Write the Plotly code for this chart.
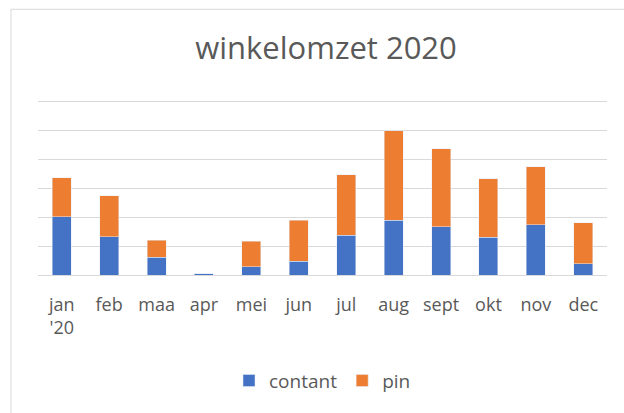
import plotly.graph_objects as go

months = ["jan<br>'20", "feb", "maa", "apr", "mei", "jun", "jul", "aug", "sept", "okt", "nov", "dec"]
contant = [2.02, 1.33, 0.61, 0.05, 0.29, 0.48, 1.37, 1.90, 1.66, 1.31, 1.74, 0.39]
pin = [1.35, 1.41, 0.59, 0.0, 0.88, 1.41, 2.09, 3.08, 2.70, 2.01, 2.01, 1.41]

W, H = 624, 413
unit = 173.6 / 6
ymax = 6.05
L, R, B = 38, 17, 137.7
T = H - B - unit * ymax
pw, ph = W - L - R, H - T - B

fig = go.Figure()
fig.add_trace(go.Bar(x=months, y=contant, name="contant", marker_color="#4472C4"))
fig.add_trace(go.Bar(x=months, y=pin, name="pin", marker_color="#ED7D31"))

font = "Open Sans"
fig.update_layout(
    width=W, height=H,
    margin=dict(l=L, r=R, t=T, b=B, autoexpand=False),
    barmode="stack", bargap=0.6,
    plot_bgcolor="white", paper_bgcolor="white",
    title=dict(text="winkelomzet 2020", x=326 / W, xanchor="center", xref="container",
               y=(H - 48) / H, yanchor="middle", yref="container",
               font=dict(family=font, size=31, color="#595959")),
    font=dict(family=font, color="#595959"),
    legend=dict(orientation="h", x=0.5, xanchor="center", y=(T + ph - 381) / ph,
                yanchor="middle", font=dict(size=19, color="#595959"),
                itemwidth=30, traceorder="normal"),
    showlegend=True,
)
fig.update_yaxes(range=[0, ymax], dtick=1, showticklabels=False, showgrid=True,
                 gridcolor="#D9D9D9", gridwidth=1, zeroline=False, showline=False)
fig.update_xaxes(showline=True, linecolor="#D9D9D9", linewidth=1,
                 tickfont=dict(size=18, color="#595959"),
                 ticks="outside", ticklen=13, tickcolor="white")

# chart border (outer frame: left and top edges visible)
def px_x(p):
    return (p - L) / pw

def px_y(p):
    return (T + ph - p) / ph

fig.add_shape(type="line", xref="paper", yref="paper",
              x0=px_x(11), x1=px_x(11), y0=px_y(9.5), y1=px_y(420),
              line=dict(color="#D9D9D9", width=1), layer="below")
fig.add_shape(type="line", xref="paper", yref="paper",
              x0=px_x(11), x1=px_x(640), y0=px_y(9.5), y1=px_y(9.5),
              line=dict(color="#D9D9D9", width=1), layer="below")

fig.write_html(
    "out.html", config={"displayModeBar": False},
    post_script=("document.body.style.margin='0';document.body.style.overflow='hidden';"
                 "document.documentElement.style.overflow='hidden';"))
